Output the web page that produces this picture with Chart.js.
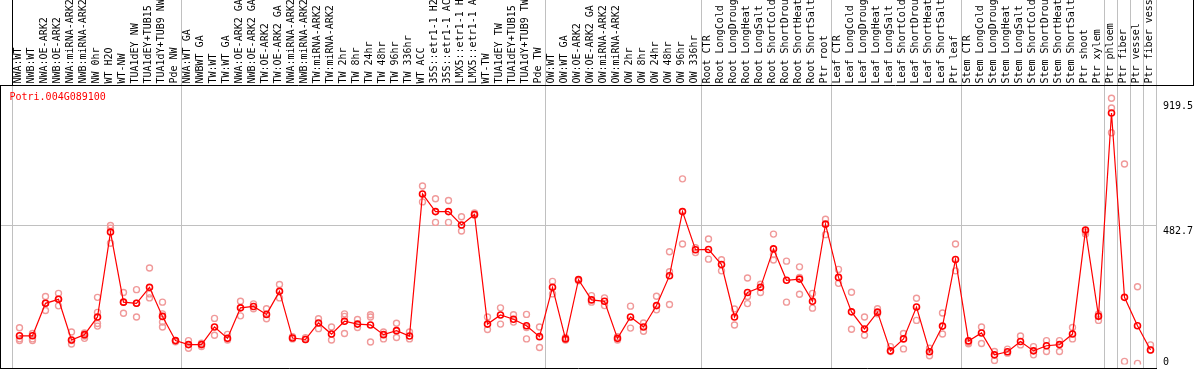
<!DOCTYPE html>
<html><head><meta charset="utf-8">
<script src="https://cdn.jsdelivr.net/npm/chart.js@4.4.1/dist/chart.umd.min.js"></script>
<style>html,body{margin:0;padding:0;background:#fff;overflow:hidden}#wrap{width:1194px;height:370px;position:relative}</style>
</head><body><div id="wrap"><canvas id="c" width="1194" height="370"></canvas></div>
<script>
const geneTitle = 'Potri.004G089100';
const categories = [
 'NWA:WT','NWB:WT','NWA:OE-ARK2','NWB:OE-ARK2','NWA:miRNA-ARK2','NWB:miRNA-ARK2','NW 0hr','WT H2O','WT-NW','TUA1dEY NW',
 'TUA1dEY+TUB15','TUA1dY+TUB9 NW','Pde NW','NWA:WT GA','NWBWT GA','TW:WT','TW:WT GA','NWA:OE-ARK2 GA','NWB:OE-ARK2 GA','TW:OE-ARK2',
 'TW:OE-ARK2 GA','NWA:miRNA-ARK2','NWB:miRNA-ARK2','TW:miRNA-ARK2','TW:miRNA-ARK2','TW 2hr','TW 8hr','TW 24hr','TW 48hr','TW 96hr',
 'TW 336hr','WT ACC','35S::etr1-1 H2O','35S::etr1-1 ACC','LMX5::etr1-1 H2O','LMX5::etr1-1 ACC','WT-TW','TUA1dEY TW','TUA1dEY+TUB15','TUA1dY+TUB9 TW',
 'Pde TW','OW:WT','OW:WT GA','OW:OE-ARK2','OW:OE-ARK2 GA','OW:miRNA-ARK2','OW:miRNA-ARK2','OW 2hr','OW 8hr','OW 24hr',
 'OW 48hr','OW 96hr','OW 336hr','Root CTR','Root LongCold','Root LongDrought','Root LongHeat','Root LongSalt','Root ShortCold','Root ShortDrought',
 'Root ShortHeat','Root ShortSalt','Ptr root','Leaf CTR','Leaf LongCold','Leaf LongDrought','Leaf LongHeat','Leaf LongSalt','Leaf ShortCold','Leaf ShortDrought',
 'Leaf ShortHeat','Leaf ShortSalt','Ptr leaf','Stem CTR','Stem LongCold','Stem LongDrought','Stem LongHeat','Stem LongSalt','Stem ShortCold','Stem ShortDrought',
 'Stem ShortHeat','Stem ShortSalt','Ptr shoot','Ptr xylem','Ptr phloem','Ptr fiber','Ptr vessel','Ptr fiber vessel'
];
const meanValues = [
 97,97,211,225,82,101,163,461,215,211,
 267,165,80,66,66,128,88,195,200,172,
 253,89,84,142,103,148,138,135,101,115,
 96,595,533,533,486,523,138,170,155,132,
 94,267,86,294,223,218,88,163,128,203,
 308,533,399,400,347,163,249,267,402,292,
 296,218,489,302,181,121,180,44,86,198,
 41,131,365,79,107,30,41,77,44,62,
 66,103,468,166,879,232,132,47
];
const rep1 = [
 125,105,235,246,110,107,232,484,249,259,
 335,215,80,80,71,158,102,218,209,192,
 277,94,84,157,128,174,154,171,110,141,
 110,623,578,572,515,528,163,195,171,172,
 128,288,91,290,238,230,94,201,142,236,
 392,648,406,437,364,191,300,278,454,359,
 339,246,506,330,250,163,192,59,105,229,
 53,177,419,73,128,42,50,96,59,80,
 80,126,461,174,931,700,269,65
];
const rep2 = [
 86,86,186,202,68,88,179,475,176,163,
 244,174,76,53,59,99,82,167,192,157,
 230,86,90,122,82,165,126,163,86,91,
 86,567,495,495,465,520,119,138,145,126,
 56,244,82,null,215,203,82,124,113,188,
 322,419,389,366,325,135,235,249,382,215,
 302,194,452,281,120,99,174,42,51,151,
 27,103,325,69,70,10,36,65,30,42,
 42,86,454,151,897,7,0,47
];
const rep3 = [
 80,80,211,225,80,96,140,422,215,211,
 230,145,null,null,null,null,null,null,null,null,
 null,null,null,null,null,105,null,75,null,null,
 null,null,null,null,null,null,null,null,null,86,
 null,null,null,null,null,null,null,null,null,null,
 207,null,null,null,null,null,210,null,363,null,
 243,null,null,null,null,null,null,null,null,null,
 null,null,null,null,null,null,null,null,null,null,
 null,null,null,null,810,null,null,null
];
const rep4 = [
 null,null,null,null,null,null,131,null,null,null,
 null,128,null,null,null,null,null,null,null,null,
 null,null,null,null,null,null,null,null,null,null,
 null,null,null,null,null,null,null,null,null,null,
 null,null,null,null,null,null,null,null,null,null,
 null,null,null,null,null,null,null,null,null,null,
 null,null,null,null,null,null,null,null,null,null,
 null,null,null,null,null,null,null,null,null,null,
 null,null,null,null,null,null,null,null
];
const yTickValues = [0, 482.7, 919.5];
const yTickLabels = ['0', '482.7', '919.5'];
const yGridValues = [482.7];
const groupBoundaries = [-0.5, 12.5, 40.5, 52.5, 62.5, 72.5, 83.5, 84.5, 85.5, 86.5, 87.5];

const meanData = meanValues.map((v, i) => ({x: i, y: v}));
const repData = [];
[rep1, rep2, rep3, rep4].forEach(arr => arr.forEach((v, i) => { if (v !== null) repData.push({x: i, y: v}); }));

const FONT = '10px "DejaVu Sans Mono", "Liberation Mono", monospace';
const HEADER_BOTTOM = 85.5;

const decor = {
  id: 'decor',
  beforeDatasetsDraw(chart) {
    const ctx = chart.ctx, xs = chart.scales.x, ys = chart.scales.y;
    ctx.save();
    ctx.strokeStyle = '#c0c0c0';
    ctx.lineWidth = 1;
    groupBoundaries.forEach(b => {
      const x = Math.round(xs.getPixelForValue(b) - 1.5) + 0.5;
      ctx.beginPath(); ctx.moveTo(x, 0); ctx.lineTo(x, 369); ctx.stroke();
    });
    yGridValues.forEach(v => {
      const y = Math.floor(ys.getPixelForValue(v)) + 0.5;
      ctx.beginPath(); ctx.moveTo(1, y); ctx.lineTo(xs.right, y); ctx.stroke();
    });
    ctx.restore();
  },
  afterDraw(chart) {
    const ctx = chart.ctx, xs = chart.scales.x, ys = chart.scales.y, ca = chart.chartArea;
    ctx.save();
    // borders
    ctx.strokeStyle = '#000'; ctx.lineWidth = 1;
    ctx.beginPath(); ctx.moveTo(0, HEADER_BOTTOM); ctx.lineTo(1194, HEADER_BOTTOM); ctx.stroke();
    ctx.beginPath(); ctx.moveTo(0.5, HEADER_BOTTOM); ctx.lineTo(0.5, 369); ctx.stroke();
    ctx.beginPath(); ctx.moveTo(0, 368.5); ctx.lineTo(ca.right, 368.5); ctx.stroke();
    const x0 = Math.round(xs.getPixelForValue(groupBoundaries[0]) - 1.5) + 0.5;
    ctx.beginPath(); ctx.moveTo(x0, 0); ctx.lineTo(x0, HEADER_BOTTOM); ctx.stroke();
    ctx.beginPath(); ctx.moveTo(1193.5, 0); ctx.lineTo(1193.5, HEADER_BOTTOM); ctx.stroke();
    // category labels (rotated)
    ctx.font = FONT; ctx.fillStyle = '#000';
    ctx.save();
    ctx.beginPath(); ctx.rect(0, 0, 1194, 85); ctx.clip();
    categories.forEach((lab, i) => {
      const x = xs.getPixelForValue(i) - 1.5;
      ctx.save();
      ctx.translate(x, 83.5);
      ctx.rotate(-Math.PI / 2);
      ctx.textAlign = 'left'; ctx.textBaseline = 'middle';
      ctx.fillText(lab, 0, 0);
      ctx.restore();
    });
    ctx.restore();
    // y tick labels on the right
    ctx.textAlign = 'left'; ctx.textBaseline = 'middle'; ctx.fillStyle = '#000';
    yTickValues.forEach((v, k) => {
      const y = Math.min(ys.getPixelForValue(v) + 5, 362);
      ctx.fillText(yTickLabels[k], 1163, y);
    });
    // gene title
    ctx.fillStyle = '#ff0000';
    ctx.fillText(geneTitle, 9.5, 97);
    ctx.restore();
  }
};

new Chart(document.getElementById('c'), {
  type: 'line',
  data: {
    datasets: [
      {
        label: 'mean', data: meanData, borderColor: '#ff0000', borderWidth: 1.2,
        pointRadius: 3, pointBorderWidth: 1.6, pointBorderColor: '#ff0000',
        pointBackgroundColor: 'rgba(255,255,255,0)', tension: 0, fill: false
      },
      {
        label: 'replicates', data: repData, showLine: false, borderColor: '#f09a9a',
        pointRadius: 3, pointBorderWidth: 1.4, pointBorderColor: '#f09a9a',
        pointBackgroundColor: 'rgba(255,255,255,0)'
      }
    ]
  },
  options: {
    responsive: false, animation: false, devicePixelRatio: 1,
    layout: { padding: { left: 13, right: 37, top: 86, bottom: 2 } },
    plugins: { legend: { display: false }, tooltip: { enabled: false } },
    scales: {
      x: { type: 'linear', min: -0.5, max: 87.5, display: false },
      y: { type: 'linear', min: -3.5, max: 974, display: false }
    },
    elements: { point: { hitRadius: 0 } }
  },
  plugins: [decor]
});
</script></body></html>
